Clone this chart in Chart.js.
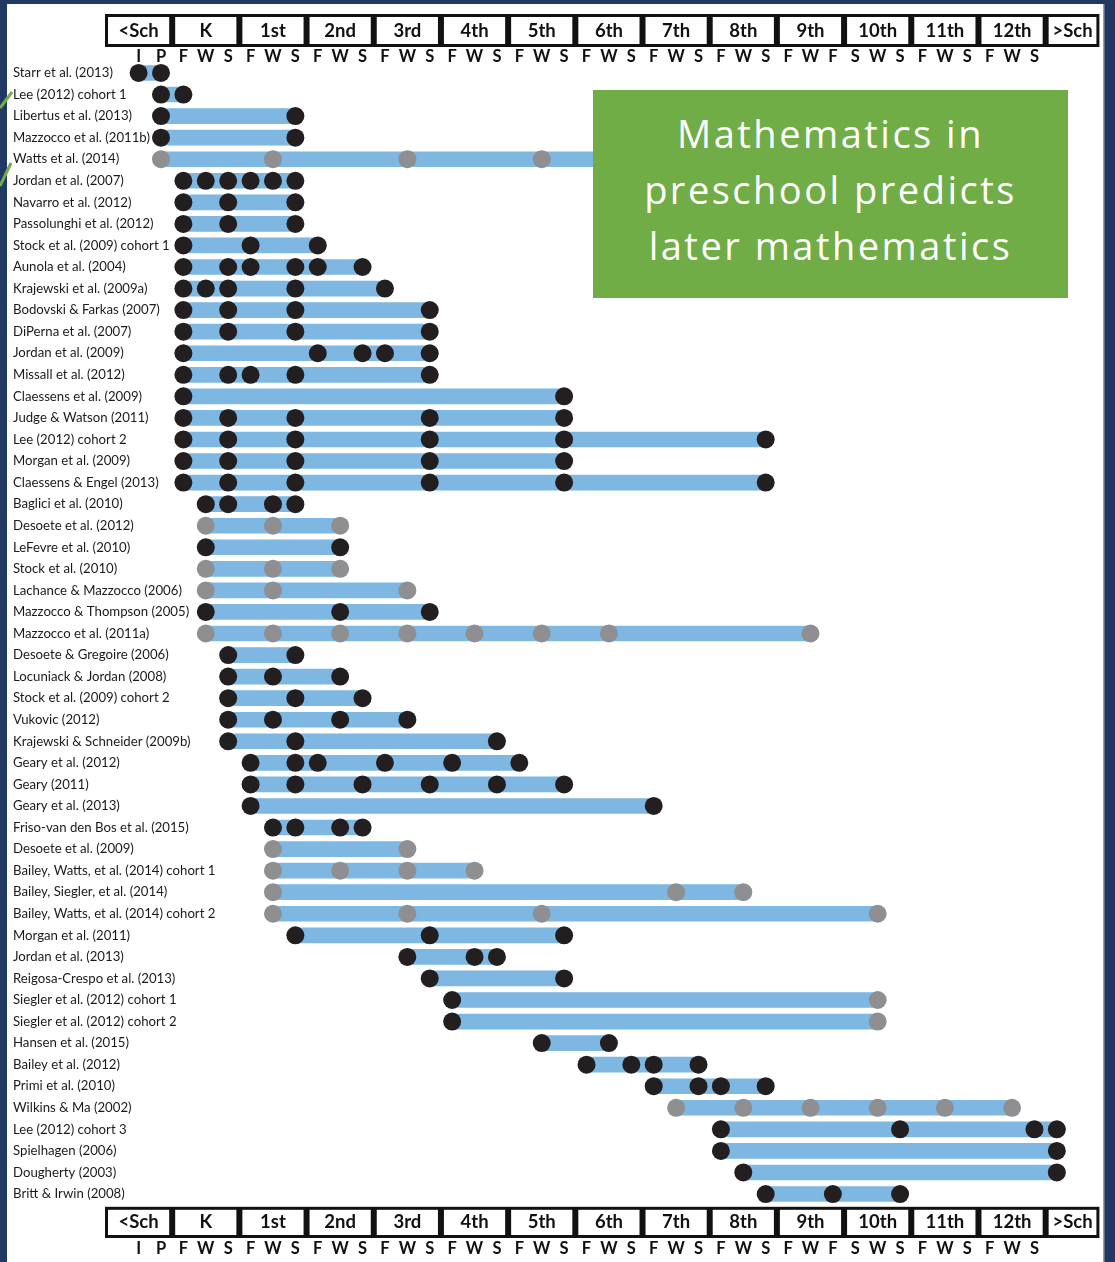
<!DOCTYPE html>
<html>
<head>
<meta charset="utf-8">
<script src="https://cdn.jsdelivr.net/npm/chart.js@4.4.1/dist/chart.umd.min.js"></script>
<style>
  html, body { margin: 0; padding: 0; background: #1f3864; }
  #wrap { position: relative; width: 1115px; height: 1262px; overflow: hidden; }
  canvas { position: absolute; left: 0; top: 0; }
  #note {
    position: absolute; left: 593px; top: 90px; width: 475px; height: 208px;
    background: #70ad47; color: #ffffff; text-align: center;
    font-family: "Open Sans", sans-serif; font-size: 38px; line-height: 56px;
    letter-spacing: 2.5px; box-sizing: border-box; padding-top: 15px;
  }
</style>
</head>
<body>
<div id="wrap">
  <canvas id="c" width="1115" height="1262"></canvas>
  <div id="note">Mathematics in<br>preschool predicts<br>later mathematics</div>
</div>
<script>
// ---- Data -------------------------------------------------------------
// Time axis positions: 0 = blank, 1 = I, 2 = P, then F/W/S for K..12th, 42 = >Sch
const periodTicks = ['', 'I', 'P',
  'F','W','S',  'F','W','S',  'F','W','S',  'F','W','S',  'F','W','S',
  'F','W','S',  'F','W','S',  'F','W','S',  'F','W','S',  'F','W','F',
  'S','W','S',  'F','W','S',  'F','W','S',  ''];
const grades = ['<Sch','K','1st','2nd','3rd','4th','5th','6th','7th','8th','9th','10th','11th','12th','>Sch'];

const studies = [
  'Starr et al. (2013)', 'Lee (2012) cohort 1', 'Libertus et al. (2013)', 'Mazzocco et al. (2011b)',
  'Watts et al. (2014)', 'Jordan et al. (2007)', 'Navarro et al. (2012)', 'Passolunghi et al. (2012)',
  'Stock et al. (2009) cohort 1', 'Aunola et al. (2004)', 'Krajewski et al. (2009a)', 'Bodovski & Farkas (2007)',
  'DiPerna et al. (2007)', 'Jordan et al. (2009)', 'Missall et al. (2012)', 'Claessens et al. (2009)',
  'Judge & Watson (2011)', 'Lee (2012) cohort 2', 'Morgan et al. (2009)', 'Claessens & Engel (2013)',
  'Baglici et al. (2010)', 'Desoete et al. (2012)', 'LeFevre et al. (2010)', 'Stock et al. (2010)',
  'Lachance & Mazzocco (2006)', 'Mazzocco & Thompson (2005)', 'Mazzocco et al. (2011a)', 'Desoete & Gregoire (2006)',
  'Locuniack & Jordan (2008)', 'Stock et al. (2009) cohort 2', 'Vukovic (2012)', 'Krajewski & Schneider (2009b)',
  'Geary et al. (2012)', 'Geary (2011)', 'Geary et al. (2013)', 'Friso-van den Bos et al. (2015)',
  'Desoete et al. (2009)', 'Bailey, Watts, et al. (2014) cohort 1', 'Bailey, Siegler, et al. (2014)', 'Bailey, Watts, et al. (2014) cohort 2',
  'Morgan et al. (2011)', 'Jordan et al. (2013)', 'Reigosa-Crespo et al. (2013)', 'Siegler et al. (2012) cohort 1',
  'Siegler et al. (2012) cohort 2', 'Hansen et al. (2015)', 'Bailey et al. (2012)', 'Primi et al. (2010)',
  'Wilkins & Ma (2002)', 'Lee (2012) cohort 3', 'Spielhagen (2006)', 'Dougherty (2003)', 'Britt & Irwin (2008)'
];

const blackDots = [
  [1,2], [2,3], [2,8], [2,8],
  [], [3,4,5,6,7,8], [3,5,8], [3,5,8],
  [3,6,9], [3,5,6,8,9,11], [3,4,5,8,12], [3,5,8,14],
  [3,5,8,14], [3,9,11,12,14], [3,5,6,8,14], [3,20],
  [3,5,8,14,20], [3,5,8,14,20,29], [3,5,8,14,20], [3,5,8,14,20,29],
  [4,5,7,8], [], [4,10], [],
  [], [4,10,14], [], [5,8],
  [5,7,10], [5,8,11], [5,7,10,13], [5,8,17],
  [6,8,9,12,15,18], [6,8,11,14,17,20], [6,24], [7,8,10,11],
  [], [], [], [],
  [8,14,20], [13,16,17], [14,20], [15],
  [15], [19,22], [21,23,24,26], [24,26,27,29],
  [], [27,35,41,42], [27,42], [28,42], [29,32,35]
];

const grayDots = [
  [], [], [], [],
  [2,7,13,19,34], [], [], [],
  [], [], [], [],
  [], [], [], [],
  [], [], [], [],
  [], [4,7,10], [], [4,7,10],
  [4,7,13], [], [4,7,10,13,16,19,22,31], [],
  [], [], [], [],
  [], [], [], [],
  [7,13], [7,10,13,16], [7,25,28], [7,13,19,34],
  [], [], [], [34],
  [34], [], [], [],
  [25,28,31,34,37,40], [], [], [], []
];

// ---- Derived for the library -----------------------------------------
const X_MIN = -0.5, X_MAX = 43.9;
const gradeEdges = grades.map((g, i) => -0.5 + 3 * i).concat([X_MAX]);
const gradeCenters = grades.map((g, i) => (gradeEdges[i] + gradeEdges[i + 1]) / 2);

const barRanges = studies.map((s, i) => {
  const all = blackDots[i].concat(grayDots[i]);
  return [Math.min(...all), Math.max(...all)];
});
const blackPts = blackDots.flatMap((arr, i) => arr.map(u => ({ x: u, y: studies[i] })));
const grayPts = grayDots.flatMap((arr, i) => arr.map(u => ({ x: u, y: studies[i] })));

const FONT_LBL = "Lato, 'Liberation Sans', sans-serif";

const frame = {
  id: 'frame',
  beforeDraw(chart) {
    const ctx = chart.ctx;
    ctx.save();
    ctx.fillStyle = '#1f3864';
    ctx.fillRect(0, 0, chart.width, chart.height);
    ctx.fillStyle = '#ffffff';
    ctx.fillRect(7, 4, 1096, chart.height - 4);
    ctx.fillStyle = '#a0a0a0';
    ctx.fillRect(1103, 4, 1.5, chart.height - 4);
    const xs = chart.scales.x;
    const boxes = [
      [chart.scales.gTop.top, chart.scales.gTop.bottom],
      [chart.scales.gBot.top + 2, chart.scales.gBot.bottom]
    ];
    boxes.forEach(([t, b]) => {
      ctx.fillStyle = '#111111';
      ctx.fillRect(xs.left, t, xs.right - xs.left, b - t);
      ctx.fillStyle = '#ffffff';
      for (let i = 0; i < grades.length; i++) {
        const l = xs.getPixelForValue(gradeEdges[i]) + 3;
        const r = xs.getPixelForValue(gradeEdges[i + 1]) - 3;
        ctx.fillRect(l, t + 3, r - l, b - t - 6);
      }
    });
    // green pointer stubs on the left edge
    ctx.strokeStyle = '#70ad47';
    ctx.lineWidth = 3;
    ctx.beginPath();
    ctx.moveTo(0, 108); ctx.lineTo(12, 92);
    ctx.moveTo(0, 186); ctx.lineTo(11, 163);
    ctx.stroke();
    ctx.restore();
  }
};

function periodAxis(position, weight, padding, height) {
  return {
    type: 'linear', position, weight, min: X_MIN, max: X_MAX,
    grid: { display: false, drawTicks: false }, border: { display: false },
    afterBuildTicks: s => { s.ticks = periodTicks.map((t, i) => ({ value: i })); },
    afterFit: s => { s.height = height; },
    ticks: {
      autoSkip: false, maxRotation: 0, minRotation: 0, padding,
      color: '#111111',
      font: { family: FONT_LBL, size: 16.5, weight: 'bold', lineHeight: 1 },
      callback: v => periodTicks[Math.round(v)]
    }
  };
}
function gradeAxis(position, weight, padding, height) {
  return {
    type: 'linear', position, weight, min: X_MIN, max: X_MAX,
    grid: { display: false, drawTicks: false }, border: { display: false },
    afterBuildTicks: s => { s.ticks = gradeCenters.map(v => ({ value: v })); },
    afterFit: s => { s.height = height; },
    ticks: {
      autoSkip: false, maxRotation: 0, minRotation: 0, padding,
      color: '#111111',
      font: { family: FONT_LBL, size: 18.5, weight: 'bold', lineHeight: 1 },
      callback: (v, i) => grades[i]
    }
  };
}

new Chart(document.getElementById('c'), {
  type: 'bar',
  data: {
    labels: studies,
    datasets: [
      { type: 'scatter', label: 'gray', data: grayPts, order: 1,
        pointRadius: 9, pointHoverRadius: 9, pointBackgroundColor: '#8f8f92', pointBorderWidth: 0,
        xAxisID: 'x', yAxisID: 'y' },
      { type: 'scatter', label: 'black', data: blackPts, order: 1,
        pointRadius: 9, pointHoverRadius: 9, pointBackgroundColor: '#231f20', pointBorderWidth: 0,
        xAxisID: 'x', yAxisID: 'y' },
      { type: 'bar', label: 'span', data: barRanges, order: 2,
        backgroundColor: '#7db7e2', borderWidth: 0, borderSkipped: false,
        barThickness: 15, xAxisID: 'x', yAxisID: 'y' }
    ]
  },
  options: {
    indexAxis: 'y',
    responsive: false,
    animation: false,
    devicePixelRatio: 1,
    layout: { padding: { left: 13, right: 15.6, top: 14, bottom: 0 } },
    plugins: { legend: { display: false }, tooltip: { enabled: false } },
    events: [],
    scales: {
      y: {
        type: 'category', labels: studies, offset: true, position: 'left',
        grid: { display: false, drawTicks: false }, border: { display: false },
        afterFit: s => { s.width = 92; },
        ticks: {
          autoSkip: false, mirror: true, crossAlign: 'near', padding: -92, color: '#1a1a1a',
          font: { family: FONT_LBL, size: 13.2 }
        }
      },
      x: periodAxis('bottom', 1, 2, 24),
      gBot: gradeAxis('bottom', 0, 8, 33.2),
      pTop: periodAxis('top', 0, -2.5, 15.2),
      gTop: gradeAxis('top', 1, 7, 33)
    }
  },
  plugins: [frame]
});
</script>
</body>
</html>
